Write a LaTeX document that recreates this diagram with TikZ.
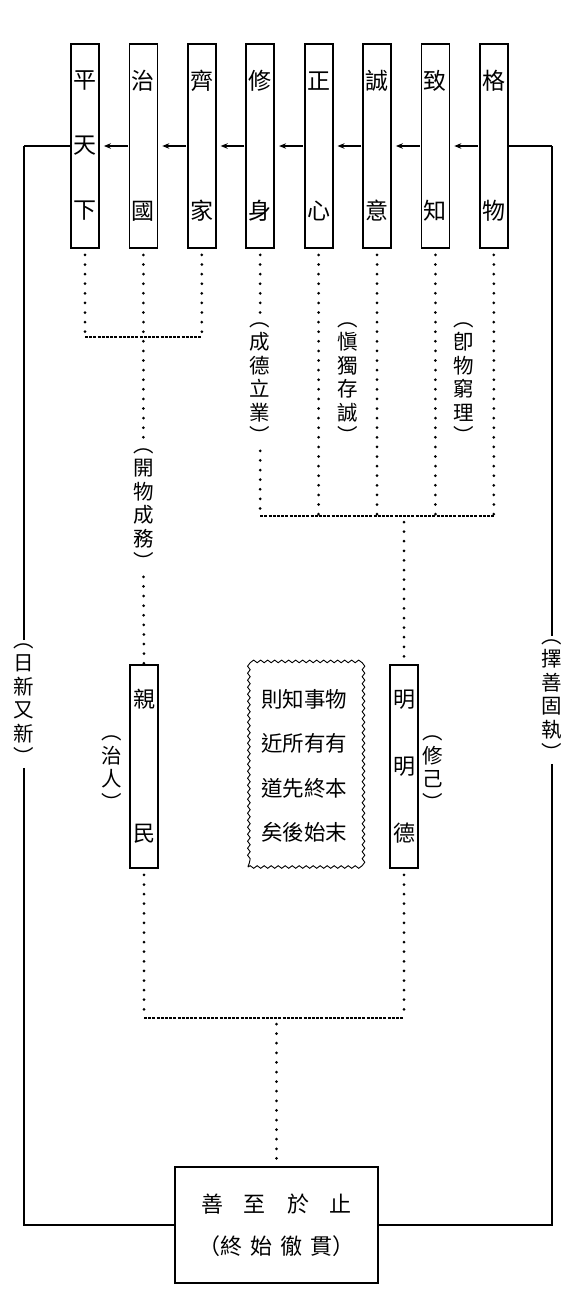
\documentclass[tikz,border=0pt]{standalone}
\usepackage{fontspec}
\newfontfamily\cjk{Noto Sans CJK TC}
\usetikzlibrary{arrows.meta,decorations.pathmorphing,positioning}

\begin{document}
\begin{tikzpicture}[x=1pt,y=-1pt,>={Stealth[length=7pt,width=5.5pt]},
  col/.style={draw,line width=1.8pt,minimum width=28pt,minimum height=204pt,
    inner sep=0pt,align=center,font=\cjk\fontsize{23}{65}\selectfont},
  lowcol/.style={col,minimum height=203pt,font=\cjk\fontsize{22}{67}\selectfont},
  note/.style={align=center,inner sep=3pt,font=\cjk\fontsize{20.5}{23.5}\selectfont},
  dotline/.style={line width=3pt,line cap=round,dash pattern=on 0pt off 9.6pt,
    shorten <=6pt},
  joinline/.style={line width=1.3pt,dash pattern=on 3pt off 1.2pt},
  loopline/.style={line width=1.8pt}]
  \useasboundingbox (0,0) rectangle (576,1293);
  \def\Top{146}

  % the eight items
  \node[col] (ping)  at (85,\Top)    {平\\天\\下};
  \node[col] (zhi)   at (143.4,\Top) {治\\[65pt]國};
  \node[col] (qi)    at (201.8,\Top) {齊\\[65pt]家};
  \node[col] (xiu)   at (260.2,\Top) {修\\[65pt]身};
  \node[col] (zheng) at (318.6,\Top) {正\\[65pt]心};
  \node[col] (cheng) at (377,\Top)   {誠\\[65pt]意};
  \node[col] (zhizh) at (435.4,\Top) {致\\[65pt]知};
  \node[col] (ge)    at (493.8,\Top) {格\\[65pt]物};

  \foreach \a/\b in {zhi/ping,qi/zhi,xiu/qi,zheng/xiu,cheng/zheng,zhizh/cheng,ge/zhizh}
    \draw[->,line width=1.1pt,shorten >=4pt,shorten <=1pt] (\a.west) -- (\b.east);

  % glosses
  \node[note] (kaiwu)   at (143.4,509) {︵\\開\\物\\成\\務\\︶};
  \node[note] (chengde) at (260.2,383) {︵\\成\\德\\立\\業\\︶};
  \node[note] (shendu)  at (348,383)   {︵\\愼\\獨\\存\\誠\\︶};
  \node[note] (jiwu)    at (464,383)   {︵\\卽\\物\\窮\\理\\︶};
  \node[note] (rixin)   at (24,704)    {︵\\日\\新\\又\\新\\︶};
  \node[note] (zeshan)  at (552,700)   {︵\\擇\\善\\固\\執\\︶};
  \node[note] (zhiren)  at (112,773)   {︵\\治\\人\\︶};
  \node[note] (xiuji)   at (433,773)   {︵\\修\\己\\︶};

  % middle row
  \node[lowcol] (qin)    at (144,766.5) {親\\[67pt]民};
  \node[lowcol] (mingde) at (404,766.5) {明\\明\\德};
  \node[draw,line width=0.9pt,decorate,decoration={snake,amplitude=1.3pt,segment length=7pt},
    minimum width=112pt,minimum height=202pt,align=center,
    font=\cjk\fontsize{21.5}{44.5}\selectfont] (benmo) at (304,766)
    {則知事物\\近所有有\\道先終本\\矣後始末};

  % end
  \node[draw,line width=2pt,minimum width=203pt,minimum height=116pt,align=center,
    font=\cjk\fontsize{22}{42}\selectfont] (zhishan) at (276.5,1225)
    {善\hspace{21pt}至\hspace{21pt}於\hspace{21pt}止\\（終\hspace{8pt}始\hspace{8pt}徹\hspace{8pt}貫）};

  \coordinate (j1) at (143.4,337);
  \coordinate (j2) at (404,516);
  \coordinate (j3) at (276.5,1018);

  % family, state, world
  \draw[dotline] (ping.south) -- (ping.south |- j1);
  \draw[dotline] (qi.south) -- (qi.south |- j1);
  \draw[joinline] (ping.south |- j1) -- (qi.south |- j1);
  \draw[dotline] (zhi.south) -- (kaiwu.north);
  \draw[dotline,shorten <=4pt] (kaiwu.south) -- (qin.north);

  % self
  \draw[dotline] (xiu.south) -- (chengde.north);
  \draw[dotline,shorten <=4pt] (chengde.south) -- (xiu.south |- j2);
  \draw[dotline] (zheng.south) -- (zheng.south |- j2);
  \draw[dotline] (cheng.south) -- (cheng.south |- j2);
  \draw[dotline] (zhizh.south) -- (zhizh.south |- j2);
  \draw[dotline] (ge.south) -- (ge.south |- j2);
  \draw[joinline] (xiu.south |- j2) -- (ge.south |- j2);
  \draw[dotline] (j2) -- (mingde.north);

  % to the end
  \draw[dotline] (qin.south) -- (qin.south |- j3);
  \draw[dotline] (mingde.south) -- (mingde.south |- j3);
  \draw[joinline] (qin.south |- j3) -- (mingde.south |- j3);
  \draw[dotline] (j3) -- (zhishan.north);

  % outer loop
  \draw[line width=1.2pt] (ping.west) -- (24,146);
  \draw[loopline] (24,146) -- (rixin.north);
  \draw[loopline] (rixin.south) -- (rixin.south |- zhishan.west) -- (zhishan.west);
  \draw[line width=1.2pt] (ge.east) -- (552,146);
  \draw[loopline] (552,146) -- (zeshan.north);
  \draw[loopline] (zeshan.south) -- (zeshan.south |- zhishan.east) -- (zhishan.east);
\end{tikzpicture}
\end{document}
